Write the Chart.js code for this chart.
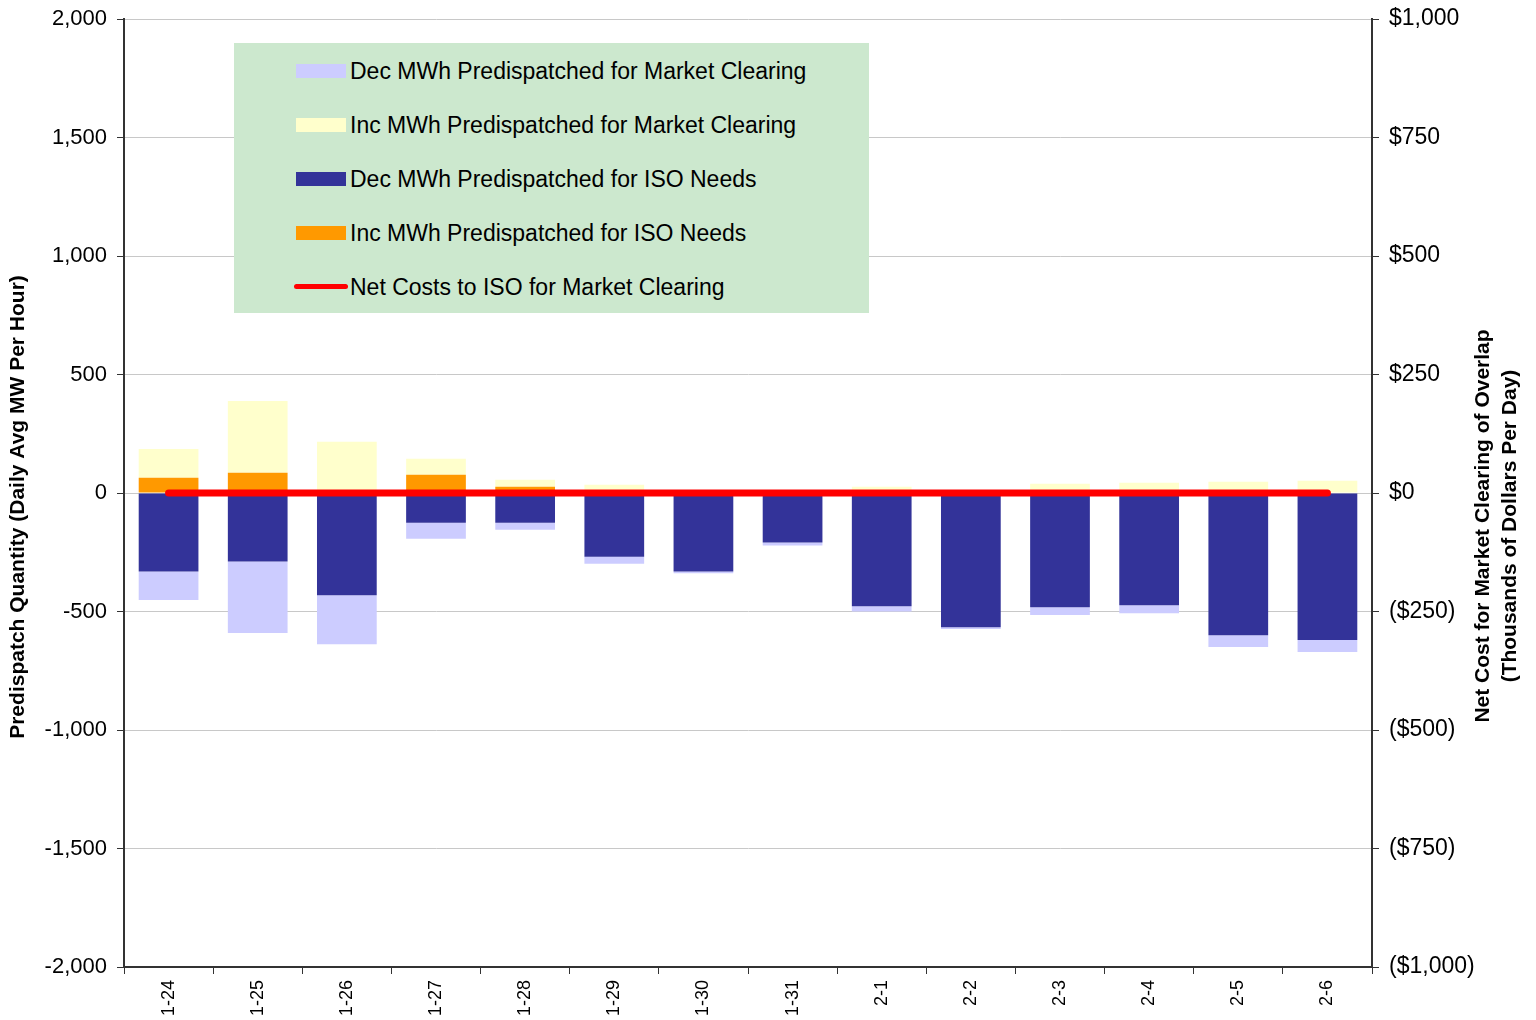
<!DOCTYPE html>
<html>
<head>
<meta charset="utf-8">
<script src="https://cdn.jsdelivr.net/npm/chart.js@4/dist/chart.umd.min.js"></script>
<style>
    body { margin: 0; background: #fff; }
    #wrap { position: relative; width: 1536px; height: 1020px; }
    #legend {
        position: absolute; left: 234px; top: 43px; width: 635px; height: 270px;
        background: #cce8ce; font-family: Arial, "Liberation Sans", sans-serif; font-size: 23px; color: #000;
    }
    .item { position: absolute; left: 0; height: 30px; line-height: 30px; white-space: nowrap; }
    .item .sw { position: absolute; left: 62px; top: 8px; width: 50px; height: 14px; }
    .item .ln { position: absolute; left: 60px; top: 12px; width: 54px; height: 5px; border-radius: 3px; background: #ff0000; }
    .item span { position: absolute; left: 116px; top: 0; }
</style>
</head>
<body>
<div id="wrap">
    <canvas id="myChart" width="1536" height="1020"></canvas>
    <div id="legend"></div>
</div>
<script>
const labels = ['1-24', '1-25', '1-26', '1-27', '1-28', '1-29', '1-30', '1-31', '2-1', '2-2', '2-3', '2-4', '2-5', '2-6'];

// MW, daily avg per hour
const incIso = [64, 85, 0, 77, 26, 0, 0, 3, 0, 0, 0, 0, 0, 0];
const incMarket = [122, 303, 216, 67, 30, 35, 4, 0, 26, 0, 39, 43, 47, 52];
const decIso = [-331, -289, -431, -126, -126, -269, -331, -209, -478, -566, -482, -474, -600, -620];
const decMarket = [-120, -302, -207, -67, -29, -29, -8, -13, -22, -8, -33, -33, -50, -51];

// thousands of dollars per day
const netCosts = [0, 0, 0, 0, 0, 0, 0, 0, 0, 0, 0, 0, 0, 0];

const leftTicks = [-2000, -1500, -1000, -500, 0, 500, 1000, 1500, 2000];

const legendItems = [
    { text: 'Dec MWh Predispatched for Market Clearing', color: '#ccccff' },
    { text: 'Inc MWh Predispatched for Market Clearing', color: '#ffffcc' },
    { text: 'Dec MWh Predispatched for ISO Needs', color: '#333399' },
    { text: 'Inc MWh Predispatched for ISO Needs', color: '#ff9900' },
    { text: 'Net Costs to ISO for Market Clearing', line: true }
];

const legend = document.getElementById('legend');
legendItems.forEach((it, i) => {
    const d = document.createElement('div');
    d.className = 'item';
    d.style.top = (13 + i * 54) + 'px';
    const sw = document.createElement('div');
    if (it.line) {
        sw.className = 'ln';
    } else {
        sw.className = 'sw';
        sw.style.background = it.color;
    }
    const t = document.createElement('span');
    t.textContent = it.text;
    d.appendChild(sw);
    d.appendChild(t);
    legend.appendChild(d);
});

const money = (v) => {
    const s = '$' + Math.abs(v).toLocaleString('en-US');
    return v < 0 ? '(' + s + ')' : s;
};

const axisFont = { family: 'Arial, "Liberation Sans", sans-serif', size: 22 };

// vertical axis titles, both read bottom to top
const axisTitles = {
    id: 'axisTitles',
    afterDraw(chart) {
        const ctx = chart.ctx;
        const rows = [
            { x: 18, y: 507, text: 'Predispatch Quantity (Daily Avg MW Per Hour)' },
            { x: 1483, y: 526, text: 'Net Cost for Market Clearing of Overlap' },
            { x: 1510, y: 526, text: '(Thousands of Dollars Per Day)' }
        ];
        rows.forEach(r => {
            ctx.save();
            ctx.fillStyle = '#000';
            ctx.font = 'bold 21px Arial, "Liberation Sans", sans-serif';
            ctx.textAlign = 'center';
            ctx.textBaseline = 'middle';
            ctx.translate(r.x, r.y);
            ctx.rotate(-Math.PI / 2);
            ctx.fillText(r.text, 0, 0);
            ctx.restore();
        });
    }
};

const data = {
    labels: labels,
    datasets: [
        {
            type: 'line',
            label: 'Net Costs to ISO for Market Clearing',
            data: netCosts,
            yAxisID: 'y1',
            borderColor: '#ff0000',
            borderWidth: 7,
            borderCapStyle: 'round',
            pointRadius: 0,
            order: 0
        },
        { label: 'Inc MWh Predispatched for ISO Needs', data: incIso, backgroundColor: '#ff9900', stack: 's', order: 1 },
        { label: 'Dec MWh Predispatched for ISO Needs', data: decIso, backgroundColor: '#333399', stack: 's', order: 1 },
        { label: 'Inc MWh Predispatched for Market Clearing', data: incMarket, backgroundColor: '#ffffcc', stack: 's', order: 1 },
        { label: 'Dec MWh Predispatched for Market Clearing', data: decMarket, backgroundColor: '#ccccff', stack: 's', order: 1 }
    ]
};

const config = {
    type: 'bar',
    data: data,
    options: {
        responsive: false,
        animation: false,
        layout: { padding: { top: 19, right: 0, left: 0, bottom: 0 } },
        categoryPercentage: 1,
        barPercentage: 0.67,
        plugins: {
            legend: { display: false },
            tooltip: { enabled: false }
        },
        scales: {
            x: {
                stacked: true,
                afterFit: (s) => { s.height = 53; s.paddingLeft = 0; s.paddingRight = 0; },
                grid: { display: true, drawOnChartArea: false, tickLength: 7, tickColor: '#333', offset: true },
                border: { color: '#333', width: 2 },
                ticks: {
                    color: '#000', minRotation: 90, maxRotation: 90, padding: 6,
                    font: { family: 'Arial, "Liberation Sans", sans-serif', size: 18 }
                }
            },
            y: {
                stacked: true,
                min: -2000,
                max: 2000,
                afterFit: (s) => { s.width = 124; s.paddingTop = 0; s.paddingBottom = 0; },
                afterBuildTicks: (s) => { s.ticks = leftTicks.map(v => ({ value: v })); },
                grid: { color: '#c8c8c8', tickColor: '#333', tickLength: 7 },
                border: { color: '#333', width: 2 },
                ticks: {
                    color: '#000', padding: 10, font: axisFont,
                    callback: (v) => v.toLocaleString('en-US')
                }
            },
            y1: {
                position: 'right',
                min: -1000,
                max: 1000,
                afterFit: (s) => { s.width = 164; s.paddingTop = 0; s.paddingBottom = 0; },
                grid: { drawOnChartArea: false, tickColor: '#333', tickLength: 7 },
                border: { color: '#333', width: 2 },
                ticks: {
                    stepSize: 250, color: '#000', padding: 10,
                    font: { family: 'Arial, "Liberation Sans", sans-serif', size: 23 },
                    callback: (v) => money(v)
                }
            }
        }
    },
    plugins: [axisTitles]
};

const myChart = new Chart(
    document.getElementById('myChart'),
    config
);
</script>
</body>
</html>
